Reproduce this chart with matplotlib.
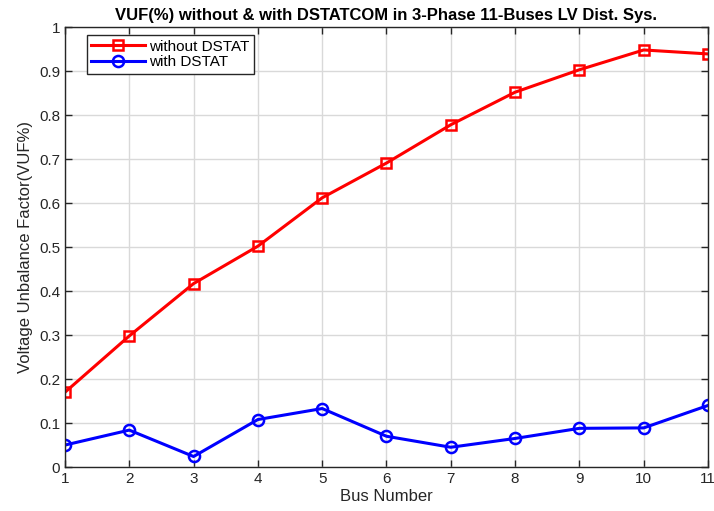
import matplotlib
matplotlib.use("Agg")
import matplotlib.pyplot as plt

plt.rcParams['font.family'] = ['Liberation Sans', 'DejaVu Sans']

# VUF per bus, read for the 11-bus LV feeder
bus = [1, 2, 3, 4, 5, 6, 7, 8, 9, 10, 11]
vuf_without = [0.170, 0.298, 0.417, 0.502, 0.612, 0.691, 0.778, 0.852, 0.903, 0.948, 0.939]
vuf_with = [0.050, 0.084, 0.024, 0.108, 0.133, 0.070, 0.045, 0.065, 0.088, 0.089, 0.140]

fig = plt.figure(figsize=(7.14, 5.11), dpi=100)
ax = fig.add_axes([0.091, 0.086, 0.9006, 0.861])

ax.plot(bus, vuf_without, color='red', linewidth=2.2, marker='s', markersize=6.5,
        markerfacecolor='none', markeredgewidth=1.8, label='without DSTAT')
ax.plot(bus, vuf_with, color='blue', linewidth=2.2, marker='o', markersize=8,
        markerfacecolor='none', markeredgewidth=1.8, label='with DSTAT')

ax.set_xlim(1, 11)
ax.set_ylim(0, 1)
ax.set_xticks(bus)
ax.set_yticks([0, 0.1, 0.2, 0.3, 0.4, 0.5, 0.6, 0.7, 0.8, 0.9, 1])
ax.set_yticklabels(['0', '0.1', '0.2', '0.3', '0.4', '0.5', '0.6', '0.7', '0.8', '0.9', '1'])
ax.grid(True, color='#d9d9d9', linewidth=1)
ax.set_axisbelow(True)
ax.tick_params(direction='in', top=True, right=True, length=5, labelsize=11,
               colors='#262626', width=1)
for s in ax.spines.values():
    s.set_color('#262626')
    s.set_linewidth(1)

ax.set_title('VUF(%) without & with DSTATCOM in 3-Phase 11-Buses LV Dist. Sys.',
             fontsize=12, fontweight='bold', pad=5)
ax.set_xlabel('Bus Number', fontsize=12, color='#262626', labelpad=2)
ax.set_ylabel('Voltage Unbalance Factor(VUF%)', fontsize=12, color='#262626', labelpad=4)

leg = ax.legend(loc='upper left', bbox_to_anchor=(0.034, 0.982), borderaxespad=0,
                fontsize=11, fancybox=False, framealpha=1, edgecolor='#262626',
                handlelength=3.5, borderpad=0.3, labelspacing=0.1, handletextpad=0.3)
leg.get_frame().set_linewidth(1)

fig.savefig('out.png', dpi=100)
